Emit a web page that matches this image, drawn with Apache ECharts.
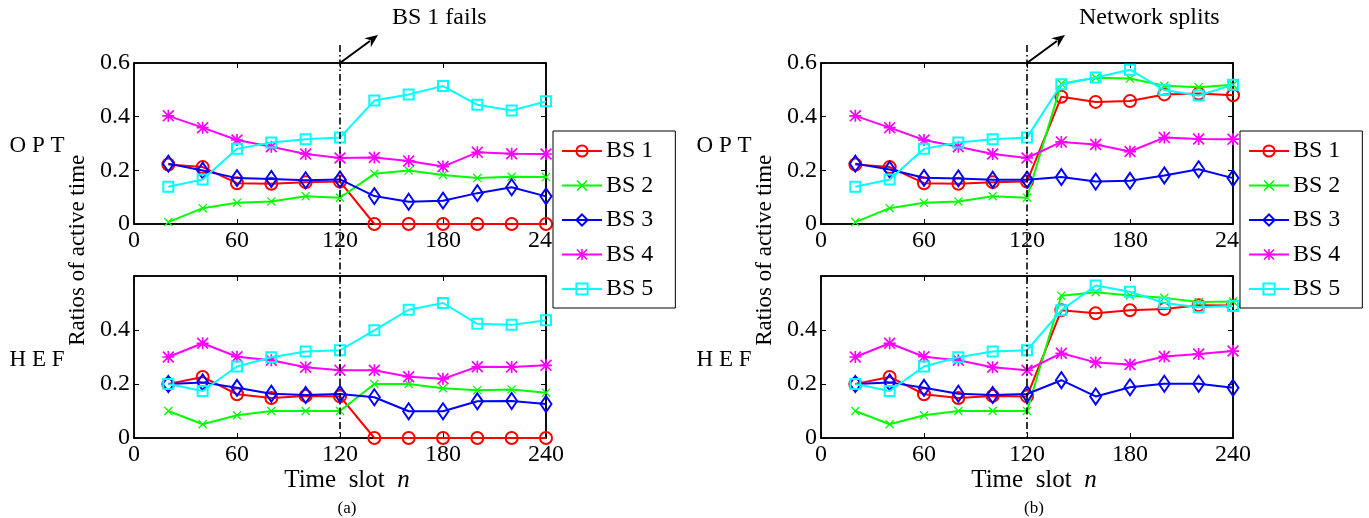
<!DOCTYPE html>
<html>
<head>
<meta charset="utf-8">
<script src="https://cdn.jsdelivr.net/npm/echarts@6/dist/echarts.min.js"></script>
<style>
  html, body { margin: 0; background: #fff; }
  #chart { width: 1369px; height: 518px; }
</style>
</head>
<body>
<div id="chart"></div>
<script>
// time slots (x values of every marker)
const xSlots = [20, 40, 60, 80, 100, 120, 140, 160, 180, 200, 220, 240];
const xTicks = [0, 60, 120, 180, 240];
const yTicks = [0, 0.2, 0.4, 0.6];

// (a) BS 1 fails -- OPT
const aOpt1 = [0.222, 0.212, 0.152, 0.150, 0.156, 0.158, 0, 0, 0, 0, 0, 0];
const aOpt2 = [0.007, 0.059, 0.079, 0.084, 0.103, 0.098, 0.187, 0.199, 0.183, 0.171, 0.176, 0.175];
const aOpt3 = [0.225, 0.199, 0.171, 0.168, 0.163, 0.166, 0.104, 0.083, 0.087, 0.115, 0.137, 0.103];
const aOpt4 = [0.403, 0.359, 0.313, 0.288, 0.261, 0.246, 0.248, 0.235, 0.214, 0.267, 0.262, 0.261];
const aOpt5 = [0.139, 0.166, 0.280, 0.304, 0.316, 0.322, 0.460, 0.483, 0.514, 0.444, 0.423, 0.457];
// (a) BS 1 fails -- HEF
const aHef1 = [0.200, 0.226, 0.162, 0.148, 0.156, 0.154, 0, 0, 0, 0, 0, 0];
const aHef2 = [0.100, 0.051, 0.084, 0.100, 0.100, 0.100, 0.200, 0.200, 0.184, 0.177, 0.180, 0.168];
const aHef3 = [0.200, 0.206, 0.186, 0.164, 0.159, 0.163, 0.151, 0.099, 0.099, 0.136, 0.137, 0.126];
const aHef4 = [0.300, 0.351, 0.301, 0.288, 0.262, 0.251, 0.251, 0.227, 0.219, 0.264, 0.263, 0.269];
const aHef5 = [0.200, 0.174, 0.265, 0.299, 0.320, 0.325, 0.399, 0.475, 0.500, 0.423, 0.419, 0.436];
// (b) network splits -- OPT
const bOpt1 = [0.222, 0.212, 0.152, 0.150, 0.156, 0.158, 0.474, 0.455, 0.458, 0.483, 0.486, 0.480];
const bOpt2 = [0.007, 0.059, 0.079, 0.084, 0.103, 0.098, 0.523, 0.545, 0.542, 0.515, 0.510, 0.519];
const bOpt3 = [0.225, 0.203, 0.172, 0.170, 0.165, 0.165, 0.175, 0.158, 0.161, 0.181, 0.204, 0.171];
const bOpt4 = [0.403, 0.359, 0.313, 0.288, 0.261, 0.246, 0.306, 0.296, 0.270, 0.322, 0.317, 0.316];
const bOpt5 = [0.139, 0.166, 0.280, 0.304, 0.316, 0.322, 0.521, 0.546, 0.575, 0.499, 0.479, 0.519];
// (b) network splits -- HEF
const bHef1 = [0.200, 0.226, 0.162, 0.148, 0.156, 0.154, 0.473, 0.462, 0.473, 0.478, 0.492, 0.491];
const bHef2 = [0.100, 0.051, 0.084, 0.100, 0.100, 0.100, 0.527, 0.540, 0.528, 0.519, 0.504, 0.506];
const bHef3 = [0.200, 0.206, 0.186, 0.164, 0.159, 0.163, 0.214, 0.154, 0.188, 0.201, 0.201, 0.186];
const bHef4 = [0.300, 0.351, 0.301, 0.288, 0.262, 0.251, 0.314, 0.280, 0.272, 0.302, 0.311, 0.322];
const bHef5 = [0.200, 0.174, 0.265, 0.299, 0.320, 0.325, 0.473, 0.565, 0.542, 0.500, 0.484, 0.489];

const bsNames = ['BS 1', 'BS 2', 'BS 3', 'BS 4', 'BS 5'];
const eventX = 120;

const panels = [
  {series: [aOpt1, aOpt2, aOpt3, aOpt4, aOpt5], left: 134, top: 63, height: 161, hideTop: false},
  {series: [aHef1, aHef2, aHef3, aHef4, aHef5], left: 134, top: 276, height: 162, hideTop: true},
  {series: [bOpt1, bOpt2, bOpt3, bOpt4, bOpt5], left: 821, top: 63, height: 161, hideTop: false},
  {series: [bHef1, bHef2, bHef3, bHef4, bHef5], left: 821, top: 276, height: 162, hideTop: true}
];

const FONT = '"Liberation Serif", "DejaVu Serif", serif';
const colors = ['#ff0000', '#00ff00', '#0000ff', '#ff00ff', '#00ffff'];
// x and * markers as thin filled paths
const SYM_X = 'path://M0,1L1,0L10,9L9,10ZM9,0L10,1L1,10L0,9Z';
const SYM_STAR = 'path://M0,1L1,0L10,9L9,10ZM9,0L10,1L1,10L0,9ZM4.3,0L5.7,0L5.7,10L4.3,10ZM0,5.7L0,4.3L10,4.3L10,5.7Z';
const markers = [
  {symbol: 'circle', size: 12, hollow: true},
  {symbol: SYM_X, size: 9, hollow: false},
  {symbol: 'diamond', size: [11, 16], hollow: true},
  {symbol: SYM_STAR, size: 12, hollow: false},
  {symbol: 'rect', size: 10, hollow: true}
];

const chart = echarts.init(document.getElementById('chart'));

const grids = [], xAxes = [], yAxes = [], series = [];
const lineBlack = {color: '#000', width: 1.5};

panels.forEach((p, gi) => {
  grids.push({left: p.left, top: p.top, width: 412, height: p.height,
    show: true, borderColor: '#000', borderWidth: 1.5});
  // bottom (labelled) and top (mirror ticks)
  ['bottom', 'top'].forEach((pos, k) => {
    xAxes.push({
      type: 'value', gridIndex: gi, position: pos, min: 0, max: 240, interval: 60,
      axisLine: {show: true, onZero: false, lineStyle: lineBlack},
      axisTick: {show: true, inside: true, length: 5, lineStyle: {color: '#000', width: 1}},
      axisLabel: {show: k === 0, fontFamily: FONT, fontSize: 24, color: '#000', margin: 5},
      splitLine: {show: false}
    });
  });
  ['left', 'right'].forEach((pos, k) => {
    yAxes.push({
      type: 'value', gridIndex: gi, position: pos, min: 0, max: 0.6, interval: 0.2,
      axisLine: {show: true, onZero: false, lineStyle: lineBlack},
      axisTick: {show: true, inside: true, length: 5, lineStyle: {color: '#000', width: 1}},
      axisLabel: {
        show: k === 0, fontFamily: FONT, fontSize: 24, color: '#000', margin: 4,
        formatter: v => {
          if (v < 1e-9) return '0';
          if (p.hideTop && v > 0.59) return '';
          return v.toFixed(1);
        }
      },
      splitLine: {show: false}
    });
  });
  p.series.forEach((vals, si) => {
    const m = markers[si];
    series.push({
      type: 'line', name: bsNames[si],
      xAxisIndex: gi * 2, yAxisIndex: gi * 2,
      data: xSlots.map((x, i) => [x, vals[i]]),
      symbol: m.symbol, symbolSize: m.size, showAllSymbol: true,
      lineStyle: {color: colors[si], width: 2},
      itemStyle: m.hollow
        ? {color: 'transparent', borderColor: colors[si], borderWidth: 2}
        : {color: colors[si], borderWidth: 0},
      emphasis: {disabled: true},
      z: 3 + si
    });
  });
});

function legendAt(left) {
  return {
    data: bsNames, orient: 'vertical', left: left, top: 131,
    backgroundColor: '#fff', borderColor: '#000', borderWidth: 1,
    padding: [8, 22, 7, 8], itemGap: 10.5, itemWidth: 40, itemHeight: 14,
    textStyle: {fontFamily: FONT, fontSize: 24, color: '#000', padding: [0, 0, 0, -1]},
    selectedMode: false, z: 20
  };
}

chart.setOption({
  animation: false,
  backgroundColor: '#fff',
  grid: grids,
  xAxis: xAxes,
  yAxis: yAxes,
  legend: [legendAt(553), legendAt(1240)],
  series: series
});

// annotations placed through the axes' own scales
const gfx = [];
const notes = ['BS 1 fails', 'Network splits'];
[0, 2].forEach((gi, side) => {
  const top = chart.convertToPixel({xAxisIndex: gi * 2, yAxisIndex: gi * 2}, [eventX, 0.6]);
  const bot = chart.convertToPixel({xAxisIndex: (gi + 1) * 2, yAxisIndex: (gi + 1) * 2}, [eventX, 0]);
  const origin = chart.convertToPixel({xAxisIndex: gi * 2, yAxisIndex: gi * 2}, [0, 0.3]);
  const originB = chart.convertToPixel({xAxisIndex: (gi + 1) * 2, yAxisIndex: (gi + 1) * 2}, [0, 0.3]);
  const mid = chart.convertToPixel({xAxisIndex: (gi + 1) * 2, yAxisIndex: (gi + 1) * 2}, [120, 0]);
  const gridLeft = origin[0];

  // dash-dot event line
  gfx.push({type: 'line', z: 50, shape: {x1: top[0], y1: top[1] - 18, x2: bot[0], y2: bot[1]},
    style: {stroke: '#000', lineWidth: 1.6, lineDash: [7, 3, 1.5, 3]}});

  // arrow
  const tip = [top[0] + 38, top[1] - 28];
  const dx = tip[0] - top[0], dy = tip[1] - top[1];
  const len = Math.sqrt(dx * dx + dy * dy);
  const ux = dx / len, uy = dy / len;
  const base = [tip[0] - ux * 13, tip[1] - uy * 13];
  gfx.push({type: 'line', z: 51, shape: {x1: top[0], y1: top[1], x2: base[0] + ux * 3, y2: base[1] + uy * 3},
    style: {stroke: '#000', lineWidth: 2}});
  gfx.push({type: 'polygon', z: 51, shape: {points: [
      tip,
      [base[0] - uy * 5.5, base[1] + ux * 5.5],
      [base[0] + ux * 4, base[1] + uy * 4],
      [base[0] + uy * 5.5, base[1] - ux * 5.5]
    ]}, style: {fill: '#000'}});
  gfx.push({type: 'text', z: 51, x: top[0] + 52, y: 18,
    style: {text: notes[side], font: '24px ' + FONT, fill: '#000', align: 'left', verticalAlign: 'middle'}});

  // row labels
  gfx.push({type: 'text', x: gridLeft - 97, y: origin[1] + 2,
    style: {text: 'O P T', font: '23px ' + FONT, fill: '#000', align: 'center', verticalAlign: 'middle'}});
  gfx.push({type: 'text', x: gridLeft - 97, y: originB[1] + 3,
    style: {text: 'H E F', font: '23px ' + FONT, fill: '#000', align: 'center', verticalAlign: 'middle'}});

  // y title spanning both rows
  gfx.push({type: 'text', x: gridLeft - 56, y: (origin[1] + originB[1]) / 2, rotation: Math.PI / 2,
    style: {text: 'Ratios of active time', font: '23px ' + FONT, fill: '#000', align: 'center', verticalAlign: 'middle'}});

  // x title and panel tag
  gfx.push({type: 'text', x: gridLeft + 213, y: mid[1] + 42,
    style: {
      text: '{t|Time  slot  }{n|n}', align: 'center', verticalAlign: 'middle',
      rich: {
        t: {font: '25px ' + FONT, fill: '#000'},
        n: {font: 'italic 25px ' + FONT, fill: '#000'}
      }
    }});
  gfx.push({type: 'text', x: gridLeft + 213, y: mid[1] + 71,
    style: {text: side === 0 ? '(a)' : '(b)', font: '17px ' + FONT, fill: '#000', align: 'center', verticalAlign: 'middle'}});
});

chart.setOption({graphic: gfx});
</script>
</body>
</html>
